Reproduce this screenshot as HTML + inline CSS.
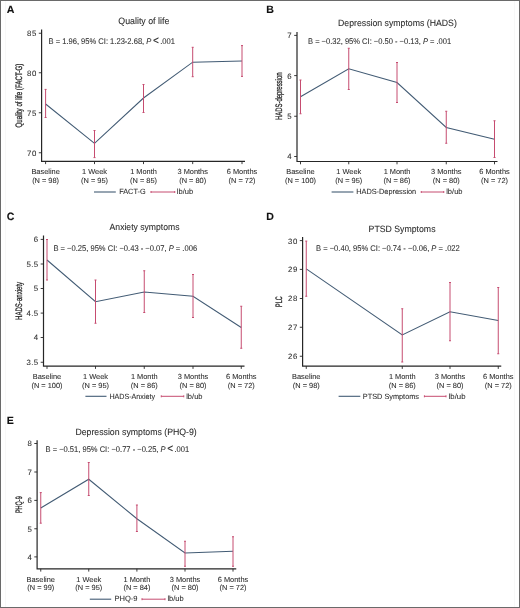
<!DOCTYPE html>
<html><head><meta charset="utf-8"><style>
html,body{margin:0;padding:0;background:#fff;}
body{width:520px;height:608px;overflow:hidden;}
svg{display:block;will-change:transform;}
text{font-family:"Liberation Sans",sans-serif;text-rendering:geometricPrecision;fill:#2e2e2e;stroke:#2e2e2e;stroke-width:0.08px;}
.let{font-size:10.6px;font-weight:bold;fill:#111;stroke:#111;stroke-width:0.1px;}
.ttl{font-size:9.2px;fill:#2a2a2a;}
.ann{font-size:8.3px;}
.yt{font-size:7.8px;letter-spacing:0.45px;text-anchor:end;}
.xt{font-size:7.4px;text-anchor:middle;}
.lg{font-size:7.6px;}
.yl{font-size:9.4px;text-anchor:middle;stroke:#2a2a2a;stroke-width:0.3px;fill:#2a2a2a;}
.axis{fill:none;stroke:#262626;stroke-width:1.2;}
.tick{fill:none;stroke:#262626;stroke-width:0.9;}
.ln{fill:none;stroke:#425b74;stroke-width:1.05;}
.eb{fill:none;stroke:#c64c70;stroke-width:1.0;}
.lgb{fill:none;stroke:#425b74;stroke-width:1.1;}
</style></head><body>
<svg width="520" height="608" viewBox="0 0 520 608">
<rect x="0.5" y="0.5" width="519" height="607" fill="#fff" stroke="#6a6a6a" stroke-width="1"/>
<path d="M5.5 1V607M514.5 1V607" stroke="#f8f8f8" stroke-width="1"/>
<text x="6.8" y="13.4" class="let">A</text>
<text x="118.3" y="24.4" class="ttl" textLength="51.0" lengthAdjust="spacingAndGlyphs">Quality of life</text>
<text x="48.5" y="43.8" class="ann" textLength="126.5" lengthAdjust="spacingAndGlyphs">B = 1.96, 95% CI: 1.23-2.68, <tspan font-style="italic">P</tspan> <tspan font-size="11px">&lt;</tspan> .001</text>
<path d="M41.6 29.6 V161.3 H245" class="axis"/>
<path d="M38.800000000000004 33.25 H41.6" class="tick"/>
<text x="36.7" y="36.15" class="yt">85</text>
<path d="M38.800000000000004 72.75 H41.6" class="tick"/>
<text x="36.7" y="75.65" class="yt">80</text>
<path d="M38.800000000000004 112.75 H41.6" class="tick"/>
<text x="36.7" y="115.65" class="yt">75</text>
<path d="M38.800000000000004 152.75 H41.6" class="tick"/>
<text x="36.7" y="155.65" class="yt">70</text>
<path d="M45.6 161.3 V164.10000000000002" class="tick"/>
<text x="45.6" y="174.20000000000002" class="xt">Baseline</text>
<text x="45.6" y="182.70000000000002" class="xt">(N = 98)</text>
<path d="M94.5 161.3 V164.10000000000002" class="tick"/>
<text x="94.5" y="174.20000000000002" class="xt">1 Week</text>
<text x="94.5" y="182.70000000000002" class="xt">(N = 95)</text>
<path d="M143.5 161.3 V164.10000000000002" class="tick"/>
<text x="143.5" y="174.20000000000002" class="xt">1 Month</text>
<text x="143.5" y="182.70000000000002" class="xt">(N = 85)</text>
<path d="M192.7 161.3 V164.10000000000002" class="tick"/>
<text x="192.7" y="174.20000000000002" class="xt">3 Months</text>
<text x="192.7" y="182.70000000000002" class="xt">(N = 80)</text>
<path d="M242.0 161.3 V164.10000000000002" class="tick"/>
<text x="242.0" y="174.20000000000002" class="xt">6 Months</text>
<text x="242.0" y="182.70000000000002" class="xt">(N = 72)</text>
<polyline class="ln" points="45.6,104 94.5,143.3 143.5,98 192.7,62.2 242.0,61.1"/>
<path class="eb" d="M45.6 89.4 V117.5 M44.6 89.4 H46.6 M44.6 117.5 H46.6"/>
<path class="eb" d="M94.5 130.5 V157.6 M93.5 130.5 H95.5 M93.5 157.6 H95.5"/>
<path class="eb" d="M143.5 84.5 V112.5 M142.5 84.5 H144.5 M142.5 112.5 H144.5"/>
<path class="eb" d="M192.7 47.3 V76.7 M191.7 47.3 H193.7 M191.7 76.7 H193.7"/>
<path class="eb" d="M242.0 45.6 V76.4 M241.0 45.6 H243.0 M241.0 76.4 H243.0"/>
<path class="lgb" d="M94.0 192.0 H115.8"/>
<text x="119.2" y="194.1" class="lg" textLength="26.4" lengthAdjust="spacingAndGlyphs">FACT-G</text>
<path class="eb" d="M151 192.0 H174.75 M151 191.0 V193.0 M174.75 191.0 V193.0"/>
<text x="176.8" y="194.1" class="lg" textLength="16.3" lengthAdjust="spacingAndGlyphs">lb/ub</text>
<text transform="translate(22.4 95.625) rotate(-90)" x="0" y="0" class="yl" textLength="63.75" lengthAdjust="spacingAndGlyphs">Quality of life (FACT-G)</text>
<text x="266.3" y="13.2" class="let">B</text>
<text x="338.0" y="26.3" class="ttl" textLength="118.8" lengthAdjust="spacingAndGlyphs">Depression symptoms (HADS)</text>
<text x="308.0" y="43.6" class="ann" textLength="143.2" lengthAdjust="spacingAndGlyphs">B = −0.32, 95% CI: −0.50 - −0.13, <tspan font-style="italic">P</tspan> = .001</text>
<path d="M297.0 31.9 V161.5 H497.5" class="axis"/>
<path d="M294.2 35.4 H297.0" class="tick"/>
<text x="292.1" y="38.3" class="yt">7</text>
<path d="M294.2 75.6 H297.0" class="tick"/>
<text x="292.1" y="78.5" class="yt">6</text>
<path d="M294.2 116.25 H297.0" class="tick"/>
<text x="292.1" y="119.15" class="yt">5</text>
<path d="M294.2 156.5 H297.0" class="tick"/>
<text x="292.1" y="159.4" class="yt">4</text>
<path d="M300.5 161.5 V164.3" class="tick"/>
<text x="300.5" y="174.4" class="xt">Baseline</text>
<text x="300.5" y="182.9" class="xt">(N = 100)</text>
<path d="M348.75 161.5 V164.3" class="tick"/>
<text x="348.75" y="174.4" class="xt">1 Week</text>
<text x="348.75" y="182.9" class="xt">(N = 95)</text>
<path d="M397.0 161.5 V164.3" class="tick"/>
<text x="397.0" y="174.4" class="xt">1 Month</text>
<text x="397.0" y="182.9" class="xt">(N = 86)</text>
<path d="M446.25 161.5 V164.3" class="tick"/>
<text x="446.25" y="174.4" class="xt">3 Months</text>
<text x="446.25" y="182.9" class="xt">(N = 80)</text>
<path d="M494.5 161.5 V164.3" class="tick"/>
<text x="494.5" y="174.4" class="xt">6 Months</text>
<text x="494.5" y="182.9" class="xt">(N = 72)</text>
<polyline class="ln" points="300.5,96.75 348.75,68.75 397.0,82.5 446.25,127.5 494.5,139.25"/>
<path class="eb" d="M300.5 80 V113.75 M299.5 80 H301.5 M299.5 113.75 H301.5"/>
<path class="eb" d="M348.75 48.25 V89.5 M347.75 48.25 H349.75 M347.75 89.5 H349.75"/>
<path class="eb" d="M397.0 62.5 V102.5 M396.0 62.5 H398.0 M396.0 102.5 H398.0"/>
<path class="eb" d="M446.25 111.25 V143.25 M445.25 111.25 H447.25 M445.25 143.25 H447.25"/>
<path class="eb" d="M494.5 120.75 V157.5 M493.5 120.75 H495.5 M493.5 157.5 H495.5"/>
<path class="lgb" d="M331.6 192.0 H353.4"/>
<text x="356.2" y="193.95" class="lg" textLength="60" lengthAdjust="spacingAndGlyphs">HADS-Depression</text>
<path class="eb" d="M421.25 192.0 H443.75 M421.25 191.0 V193.0 M443.75 191.0 V193.0"/>
<text x="446.2" y="193.95" class="lg" textLength="16.3" lengthAdjust="spacingAndGlyphs">lb/ub</text>
<text transform="translate(281.9 96.25) rotate(-90)" x="0" y="0" class="yl" textLength="47.5" lengthAdjust="spacingAndGlyphs">HADS-depression</text>
<text x="6.8" y="220.0" class="let">C</text>
<text x="109.6" y="230.4" class="ttl" textLength="69.9" lengthAdjust="spacingAndGlyphs">Anxiety symptoms</text>
<text x="53.4" y="251.1" class="ann" textLength="143.7" lengthAdjust="spacingAndGlyphs">B = −0.25, 95% CI: −0.43 - −0.07, <tspan font-style="italic">P</tspan> = .006</text>
<path d="M43.5 235.6 V366.1 H244.5" class="axis"/>
<path d="M40.7 239.4 H43.5" class="tick"/>
<text x="38.6" y="242.3" class="yt">6</text>
<path d="M40.7 264 H43.5" class="tick"/>
<text x="38.6" y="266.9" class="yt">5.5</text>
<path d="M40.7 288.5 H43.5" class="tick"/>
<text x="38.6" y="291.4" class="yt">5</text>
<path d="M40.7 313.1 H43.5" class="tick"/>
<text x="38.6" y="316.0" class="yt">4.5</text>
<path d="M40.7 337.5 H43.5" class="tick"/>
<text x="38.6" y="340.4" class="yt">4</text>
<path d="M40.7 362.25 H43.5" class="tick"/>
<text x="38.6" y="365.15" class="yt">3.5</text>
<path d="M47.0 366.1 V368.90000000000003" class="tick"/>
<text x="47.0" y="379.0" class="xt">Baseline</text>
<text x="47.0" y="387.5" class="xt">(N = 100)</text>
<path d="M95.5 366.1 V368.90000000000003" class="tick"/>
<text x="95.5" y="379.0" class="xt">1 Week</text>
<text x="95.5" y="387.5" class="xt">(N = 95)</text>
<path d="M144.25 366.1 V368.90000000000003" class="tick"/>
<text x="144.25" y="379.0" class="xt">1 Month</text>
<text x="144.25" y="387.5" class="xt">(N = 86)</text>
<path d="M193.0 366.1 V368.90000000000003" class="tick"/>
<text x="193.0" y="379.0" class="xt">3 Months</text>
<text x="193.0" y="387.5" class="xt">(N = 80)</text>
<path d="M241.25 366.1 V368.90000000000003" class="tick"/>
<text x="241.25" y="379.0" class="xt">6 Months</text>
<text x="241.25" y="387.5" class="xt">(N = 72)</text>
<polyline class="ln" points="47.0,260 95.5,301.75 144.25,292 193.0,296.25 241.25,327.5"/>
<path class="eb" d="M47.0 239.5 V280 M46.0 239.5 H48.0 M46.0 280 H48.0"/>
<path class="eb" d="M95.5 280 V323.25 M94.5 280 H96.5 M94.5 323.25 H96.5"/>
<path class="eb" d="M144.25 270.75 V312.5 M143.25 270.75 H145.25 M143.25 312.5 H145.25"/>
<path class="eb" d="M193.0 274.5 V317.5 M192.0 274.5 H194.0 M192.0 317.5 H194.0"/>
<path class="eb" d="M241.25 306.25 V348.25 M240.25 306.25 H242.25 M240.25 348.25 H242.25"/>
<path class="lgb" d="M85.4 396.3 H106.5"/>
<text x="109.4" y="398.95" class="lg" textLength="45.6" lengthAdjust="spacingAndGlyphs">HADS-Anxiety</text>
<path class="eb" d="M161.25 396.3 H183.75 M161.25 395.3 V397.3 M183.75 395.3 V397.3"/>
<text x="186.2" y="398.95" class="lg" textLength="16.3" lengthAdjust="spacingAndGlyphs">lb/ub</text>
<text transform="translate(22.4 300.95) rotate(-90)" x="0" y="0" class="yl" textLength="38.10000000000002" lengthAdjust="spacingAndGlyphs">HADS-anxiety</text>
<text x="266.3" y="219.6" class="let">D</text>
<text x="368.6" y="231.7" class="ttl" textLength="66.9" lengthAdjust="spacingAndGlyphs">PTSD Symptoms</text>
<text x="316.0" y="250.5" class="ann" textLength="143.8" lengthAdjust="spacingAndGlyphs">B = −0.40, 95% CI: −0.74 - −0.06, <tspan font-style="italic">P</tspan> = .022</text>
<path d="M302.6 237.1 V366.1 H501.25" class="axis"/>
<path d="M299.8 240.6 H302.6" class="tick"/>
<text x="297.70000000000005" y="243.5" class="yt">30</text>
<path d="M299.8 269.4 H302.6" class="tick"/>
<text x="297.70000000000005" y="272.29999999999995" class="yt">29</text>
<path d="M299.8 298.5 H302.6" class="tick"/>
<text x="297.70000000000005" y="301.4" class="yt">28</text>
<path d="M299.8 327.25 H302.6" class="tick"/>
<text x="297.70000000000005" y="330.15" class="yt">27</text>
<path d="M299.8 356.25 H302.6" class="tick"/>
<text x="297.70000000000005" y="359.15" class="yt">26</text>
<path d="M306.25 366.1 V368.90000000000003" class="tick"/>
<text x="306.25" y="379.0" class="xt">Baseline</text>
<text x="306.25" y="387.5" class="xt">(N = 98)</text>
<path d="M402.25 366.1 V368.90000000000003" class="tick"/>
<text x="402.25" y="379.0" class="xt">1 Month</text>
<text x="402.25" y="387.5" class="xt">(N = 86)</text>
<path d="M450.0 366.1 V368.90000000000003" class="tick"/>
<text x="450.0" y="379.0" class="xt">3 Months</text>
<text x="450.0" y="387.5" class="xt">(N = 80)</text>
<path d="M498.25 366.1 V368.90000000000003" class="tick"/>
<text x="498.25" y="379.0" class="xt">6 Months</text>
<text x="498.25" y="387.5" class="xt">(N = 72)</text>
<polyline class="ln" points="306.25,268.9 402.25,335 450.0,311.75 498.25,320.5"/>
<path class="eb" d="M306.25 241.1 V296.25 M305.25 241.1 H307.25 M305.25 296.25 H307.25"/>
<path class="eb" d="M402.25 308.75 V362 M401.25 308.75 H403.25 M401.25 362 H403.25"/>
<path class="eb" d="M450.0 282.5 V340.75 M449.0 282.5 H451.0 M449.0 340.75 H451.0"/>
<path class="eb" d="M498.25 287.5 V353.75 M497.25 287.5 H499.25 M497.25 353.75 H499.25"/>
<path class="lgb" d="M338.6 396.3 H360.3"/>
<text x="362.8" y="398.7" class="lg" textLength="56.2" lengthAdjust="spacingAndGlyphs">PTSD Symptoms</text>
<path class="eb" d="M424.4 396.3 H446 M424.4 395.3 V397.3 M446 395.3 V397.3"/>
<text x="448.6" y="398.7" class="lg" textLength="16.9" lengthAdjust="spacingAndGlyphs">lb/ub</text>
<text transform="translate(282.4 301.575) rotate(-90)" x="0" y="0" class="yl" textLength="10.649999999999977" lengthAdjust="spacingAndGlyphs">PLC</text>
<text x="6.8" y="424.1" class="let">E</text>
<text x="75.4" y="434.8" class="ttl" textLength="121.4" lengthAdjust="spacingAndGlyphs">Depression symptoms (PHQ-9)</text>
<text x="45.5" y="452.0" class="ann" textLength="143.7" lengthAdjust="spacingAndGlyphs">B = −0.51, 95% CI: −0.77 - −0.25, <tspan font-style="italic">P</tspan> <tspan font-size="11px">&lt;</tspan> .001</text>
<path d="M37.1 440.25 V568.8 H236.25" class="axis"/>
<path d="M34.300000000000004 443.5 H37.1" class="tick"/>
<text x="32.2" y="446.4" class="yt">8</text>
<path d="M34.300000000000004 472.0 H37.1" class="tick"/>
<text x="32.2" y="474.9" class="yt">7</text>
<path d="M34.300000000000004 500.4 H37.1" class="tick"/>
<text x="32.2" y="503.29999999999995" class="yt">6</text>
<path d="M34.300000000000004 528.75 H37.1" class="tick"/>
<text x="32.2" y="531.65" class="yt">5</text>
<path d="M34.300000000000004 556.9 H37.1" class="tick"/>
<text x="32.2" y="559.8" class="yt">4</text>
<path d="M40.75 568.8 V571.5999999999999" class="tick"/>
<text x="40.75" y="581.6999999999999" class="xt">Baseline</text>
<text x="40.75" y="590.1999999999999" class="xt">(N = 99)</text>
<path d="M88.75 568.8 V571.5999999999999" class="tick"/>
<text x="88.75" y="581.6999999999999" class="xt">1 Week</text>
<text x="88.75" y="590.1999999999999" class="xt">(N = 95)</text>
<path d="M136.9 568.8 V571.5999999999999" class="tick"/>
<text x="136.9" y="581.6999999999999" class="xt">1 Month</text>
<text x="136.9" y="590.1999999999999" class="xt">(N = 84)</text>
<path d="M185.0 568.8 V571.5999999999999" class="tick"/>
<text x="185.0" y="581.6999999999999" class="xt">3 Months</text>
<text x="185.0" y="590.1999999999999" class="xt">(N = 80)</text>
<path d="M233.0 568.8 V571.5999999999999" class="tick"/>
<text x="233.0" y="581.6999999999999" class="xt">6 Months</text>
<text x="233.0" y="590.1999999999999" class="xt">(N = 72)</text>
<polyline class="ln" points="40.75,508 88.75,479.25 136.9,518.75 185.0,553 233.0,551.25"/>
<path class="eb" d="M40.75 492.6 V523.2 M39.75 492.6 H41.75 M39.75 523.2 H41.75"/>
<path class="eb" d="M88.75 462.5 V495.5 M87.75 462.5 H89.75 M87.75 495.5 H89.75"/>
<path class="eb" d="M136.9 505 V531.5 M135.9 505 H137.9 M135.9 531.5 H137.9"/>
<path class="eb" d="M185.0 541.25 V566.25 M184.0 541.25 H186.0 M184.0 566.25 H186.0"/>
<path class="eb" d="M233.0 536.75 V566.25 M232.0 536.75 H234.0 M232.0 566.25 H234.0"/>
<path class="lgb" d="M89.8 599.2 H111.2"/>
<text x="114.4" y="601.0500000000001" class="lg" textLength="23.1" lengthAdjust="spacingAndGlyphs">PHQ-9</text>
<path class="eb" d="M142 599.2 H165 M142 598.2 V600.2 M165 598.2 V600.2"/>
<text x="167.4" y="601.0500000000001" class="lg" textLength="16.3" lengthAdjust="spacingAndGlyphs">lb/ub</text>
<text transform="translate(22.4 504.675) rotate(-90)" x="0" y="0" class="yl" textLength="16.850000000000023" lengthAdjust="spacingAndGlyphs">PHQ-9</text>
</svg>
</body></html>
